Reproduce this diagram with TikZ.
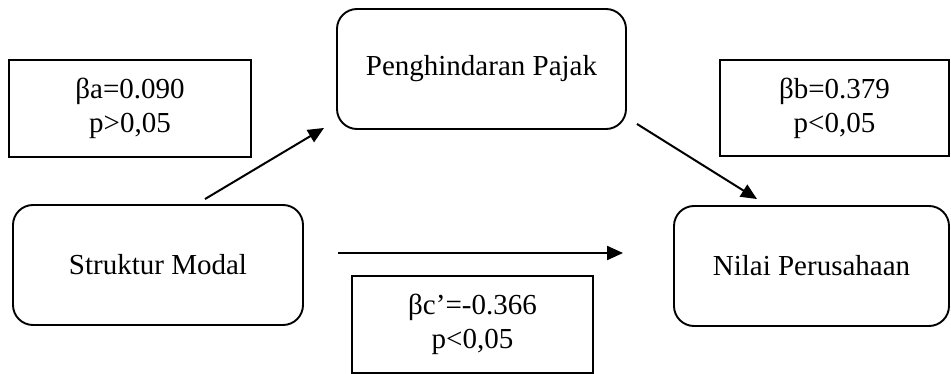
\documentclass[tikz,border=0pt]{standalone}
\usepackage{fontspec}
\setmainfont{Liberation Serif}
\usetikzlibrary{arrows.meta}
\begin{document}
\begin{tikzpicture}[x=1pt,y=-1pt,
  every node/.style={font=\fontsize{29}{34}\selectfont, align=center, inner sep=0pt},
  valbox/.style={draw, line width=1.9pt, rectangle},
  varbox/.style={draw, line width=1.9pt, rectangle, rounded corners=20pt},
  conn/.style={line width=2pt, -{Triangle[length=16pt,width=14pt]}}]
\useasboundingbox (0,0) rectangle (951,374);
\node[valbox, minimum width=242pt, minimum height=97pt] (ba) at (130,108.5) {βa=0.090\\p>0,05};
\node[varbox, minimum width=289pt, minimum height=120pt] (pp) at (481.5,69) {Penghindaran Pajak};
\node[valbox, minimum width=229pt, minimum height=96pt] (bb) at (834.5,108) {βb=0.379\\p<0,05};
\node[varbox, minimum width=290pt, minimum height=120pt] (sm) at (158,265) {Struktur Modal};
\node[varbox, minimum width=275pt, minimum height=120pt] (np) at (811.5,266) {Nilai Perusahaan};
\node[valbox, minimum width=241pt, minimum height=97pt] (bc) at (472.5,324.5) {βc’=-0.366\\p<0,05};
\coordinate (a1s) at ([xshift=47pt,yshift=5pt]sm.north);
\coordinate (a1e) at ([xshift=-12pt,yshift=2pt]pp.south west);
\coordinate (a2s) at ([xshift=10pt,yshift=6pt]pp.south east);
\coordinate (a2e) at ([xshift=-54.5pt,yshift=6pt]np.north);
\coordinate (a3s) at ([xshift=34pt,yshift=12pt]sm.east);
\coordinate (a3e) at ([xshift=-50pt,yshift=13pt]np.west);
\draw[conn] (a1s) -- (a1e);
\draw[conn] (a2s) -- (a2e);
\draw[conn] (a3s) -- (a3e);
\end{tikzpicture}
\end{document}
